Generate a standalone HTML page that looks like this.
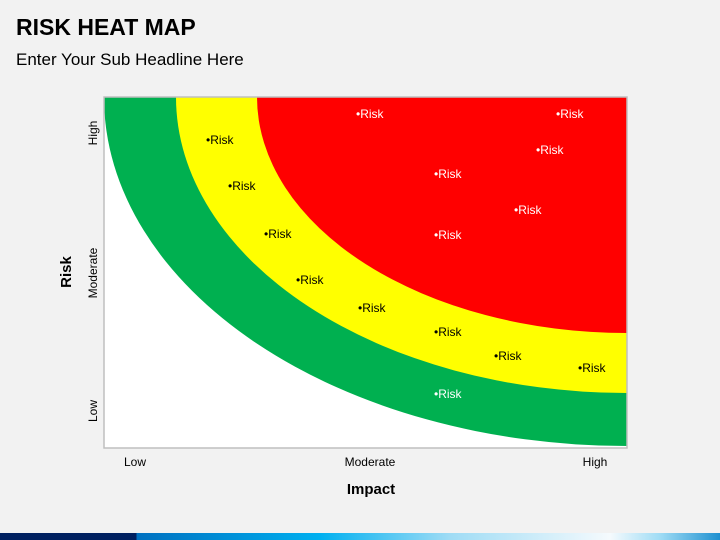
<!DOCTYPE html>
<html><head><style>
body{margin:0;width:720px;height:540px;background:#f2f2f2;position:relative;overflow:hidden;font-family:"Liberation Sans",sans-serif}
.t{position:absolute;left:16px;top:14px;font-size:23px;font-weight:bold;color:#000}
.s{position:absolute;left:16px;top:50px;font-size:17px;color:#000}
.bar{position:absolute;left:0;top:533px;width:720px;height:7px;background:linear-gradient(90deg,#002060 0,#002060 136px,#0070c0 137px,#00b0f0 320px,#9fdcf5 450px,#f5fafd 610px,#9fdcf5 660px,#1e90d0 720px)}
</style></head><body>
<div class="t">RISK HEAT MAP</div>
<div class="s">Enter Your Sub Headline Here</div>
<svg width="720" height="540" style="position:absolute;left:0;top:0" font-family="Liberation Sans, sans-serif">
<defs><clipPath id="c"><rect x="104" y="97" width="523" height="351"/></clipPath></defs>
<rect x="104" y="97" width="523" height="351" fill="#fff"/>
<g clip-path="url(#c)">
<ellipse cx="627" cy="97" rx="523" ry="349" fill="#00b050"/>
<ellipse cx="627" cy="97" rx="451" ry="296" fill="#ffff00"/>
<ellipse cx="627" cy="97" rx="370" ry="236" fill="#ff0000"/>
</g>
<rect x="104" y="97" width="523" height="351" fill="none" stroke="#bfbfbf" stroke-width="1.5"/>
<g font-size="12" fill="#000">
<text x="206" y="144">•Risk</text><text x="228" y="190">•Risk</text><text x="264" y="238">•Risk</text>
<text x="296" y="284">•Risk</text><text x="358" y="312">•Risk</text><text x="434" y="336">•Risk</text>
<text x="494" y="360">•Risk</text><text x="578" y="372">•Risk</text>
</g>
<g font-size="12" fill="#fff">
<text x="356" y="118">•Risk</text><text x="556" y="118">•Risk</text><text x="536" y="154">•Risk</text>
<text x="434" y="178">•Risk</text><text x="514" y="214">•Risk</text><text x="434" y="239">•Risk</text>
<text x="434" y="398">•Risk</text>
</g>
<g font-size="12" fill="#000">
<text x="135" y="466" text-anchor="middle">Low</text>
<text x="370" y="466" text-anchor="middle">Moderate</text>
<text x="595" y="466" text-anchor="middle">High</text>
<text x="97" y="133" text-anchor="middle" transform="rotate(-90 97 133)">High</text>
<text x="97" y="273" text-anchor="middle" transform="rotate(-90 97 273)">Moderate</text>
<text x="97" y="411" text-anchor="middle" transform="rotate(-90 97 411)">Low</text>
</g>
<text x="371" y="494" font-size="15" font-weight="bold" text-anchor="middle">Impact</text>
<text x="71" y="272" font-size="15" font-weight="bold" text-anchor="middle" transform="rotate(-90 71 272)">Risk</text>
</svg>
<div class="bar"></div>
</body></html>
